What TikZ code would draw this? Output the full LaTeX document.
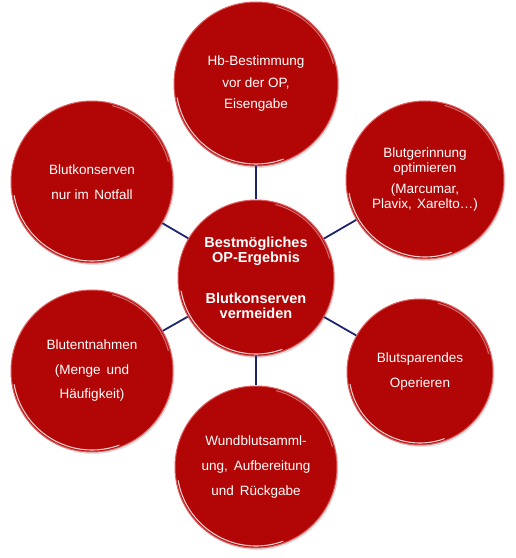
\documentclass[tikz,border=0pt]{standalone}
\usepackage{fontspec}
\setmainfont{Liberation Sans}
\usetikzlibrary{shadows}
\definecolor{ballred}{RGB}{178,6,6}
\definecolor{ballrim}{RGB}{225,95,95}
\definecolor{linkblue}{RGB}{31,36,112}
\tikzset{
  ball/.style={circle, fill=ballred, draw=ballrim, line width=1pt,
    minimum size=#1, inner sep=0pt, align=center, text=white,
    drop shadow={shadow xshift=1.5pt, shadow yshift=-2pt, opacity=0.25}},
  balltext/.style={font=\fontsize{13.5}{#1}\selectfont},
  link/.style={draw=linkblue, line width=1.8pt},
  shine/.style={draw=white, opacity=0.8, line width=1.1pt, line cap=round}
}
\begin{document}
\begin{tikzpicture}[x=1pt,y=1pt]
\useasboundingbox (0,0) rectangle (516,558);
% outer circles
\node[ball=164pt, balltext=21.5] (T) at (256,474) {Hb-Bestimmung\\vor der OP,\\Eisengabe};
\node[ball=158pt, balltext=15] (RT) at (425,378) {Blutgerinnung\\optimieren\\[6pt](Marcumar,\\Plavix,\hspace{0.4em}Xarelto…)};
\node[ball=162pt, balltext=25] (LT) at (92,376) {Blutkonserven\\nur im\hspace{0.4em}Notfall};
\node[ball=162pt, balltext=24.5] (LB) at (92,187) {Blutentnahmen\\(Menge\hspace{0.45em}und\\Häufigkeit)};
\node[ball=146pt, balltext=25] (RB) at (420,186) {Blutsparendes\\Operieren};
\node[ball=162pt, balltext=25] (B) at (256,91) {Wundblutsamml-\\ung,\hspace{0.45em}Aufbereitung\\und\hspace{0.45em}Rückgabe};
% centre
\node[ball=156pt, font=\fontsize{14.5}{15}\selectfont\bfseries] (C) at (256,280) {Bestmögliches\\OP-Ergebnis\\[26pt]Blutkonserven\\vermeiden};
% connectors
\foreach \n in {T,RT,LT,LB,RB,B} \draw[link] (C) -- (\n);
% highlights
\foreach \n/\r in {T/80,RT/77,LT/79,LB/79,RB/71,B/79,C/76} {
  \draw[shine] ([shift={(190:\r)}]\n.center) arc[start angle=190, end angle=290, radius=\r];
  \draw[shine, opacity=0.4] ([shift={(15:\r)}]\n.center) arc[start angle=15, end angle=75, radius=\r];
}
\end{tikzpicture}
\end{document}
